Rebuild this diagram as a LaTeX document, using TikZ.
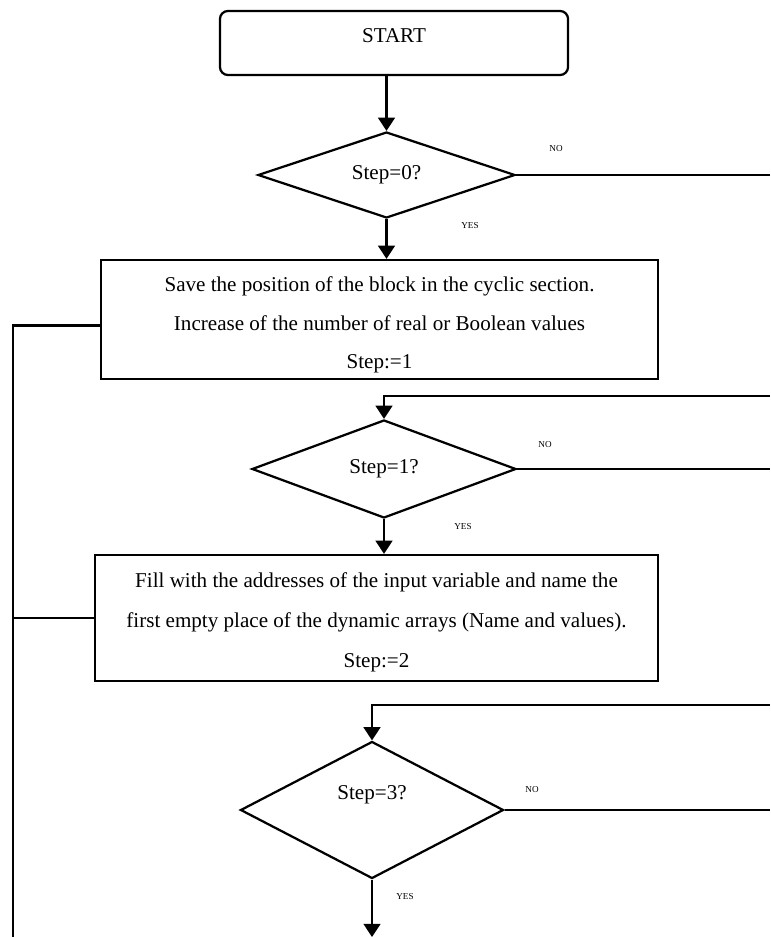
\documentclass[tikz,border=0pt]{standalone}
\usepackage{fontspec}
\setmainfont{Liberation Serif}
\usetikzlibrary{shapes.geometric,arrows.meta}
\begin{document}
\begin{tikzpicture}[x=0.025cm,y=-0.025cm,line width=1.6pt,
  arr/.style={-{Triangle[length=0.33cm,width=0.42cm]}},
  blk/.style={draw,rectangle,inner sep=0pt},
  txt/.style={align=center,inner sep=0pt,font=\fontsize{15}{27.5}\selectfont},
  test/.style={draw,diamond,aspect=3,inner sep=0pt,font=\fontsize{15}{18}\selectfont},
  tag/.style={font=\fontsize{6.5}{8}\selectfont,inner sep=0pt}]
\useasboundingbox (0,0) rectangle (770,937);

\node[blk,rounded corners=0.2cm,minimum width=8.7cm,minimum height=1.6cm] (start) at (394,43) {};
\node[txt] (starttxt) at (394,36) {START};

\node[test,minimum width=6.43cm,minimum height=2.15cm] (test0) at (386.5,175) {Step=0?};
\node[blk,minimum width=13.925cm,minimum height=2.975cm] (save) at (379.5,319.5) {};
\node[txt] (savetxt) at (379.5,325)
  {Save the position of the block in the cyclic section.\\
   Increase of the number of real or Boolean values\\
   Step:=1};
\node[test,minimum width=6.6cm,minimum height=2.45cm] (test1) at (384,469) {Step=1?};
\node[blk,minimum width=14.075cm,minimum height=3.15cm] (fill) at (376.5,618) {};
\node[txt,font=\fontsize{15}{28.5}\selectfont] (filltxt) at (376.5,622)
  {Fill with the addresses of the input variable and name the\\
   first empty place of the dynamic arrays (Name and values).\\
   Step:=2};
\node[test,minimum width=6.575cm,minimum height=3.425cm] (test3) at (372,810) {};
\node[txt] (test3txt) at (372,795) {Step=3?};

\node[tag] (no0) at (556,149) {NO};
\node[tag] (yes0) at (470,226) {YES};
\node[tag] (no1) at (545,445) {NO};
\node[tag] (yes1) at (463,527) {YES};
\node[tag] (no3) at (532,790) {NO};
\node[tag] (yes3) at (405,897) {YES};

\coordinate (out0) at (770,175);
\coordinate (back1) at (770,396);
\coordinate (out1) at (770,469);
\coordinate (back3) at (770,705);
\coordinate (out3) at (770,810);
\coordinate (down3) at (372,937);
\coordinate (left) at (13,937);

\draw[arr] (test0.north |- start.south) -- (test0.north);
\draw (test0.east) -- (out0);
\draw[arr] (test0.south) -- (test0.south |- save.north);
\draw ([yshift=-0.15cm]save.west) -| (left);
\draw[arr] (back1) -| (test1.north);
\draw (test1.east) -- (out1);
\draw[arr] (test1.south) -- (test1.south |- fill.north);
\draw (fill.west) -- (fill.west -| left);
\draw[arr] (back3) -| (test3.north);
\draw (test3.east) -- (out3);
\draw[arr] (test3.south) -- (down3);
\end{tikzpicture}
\end{document}
